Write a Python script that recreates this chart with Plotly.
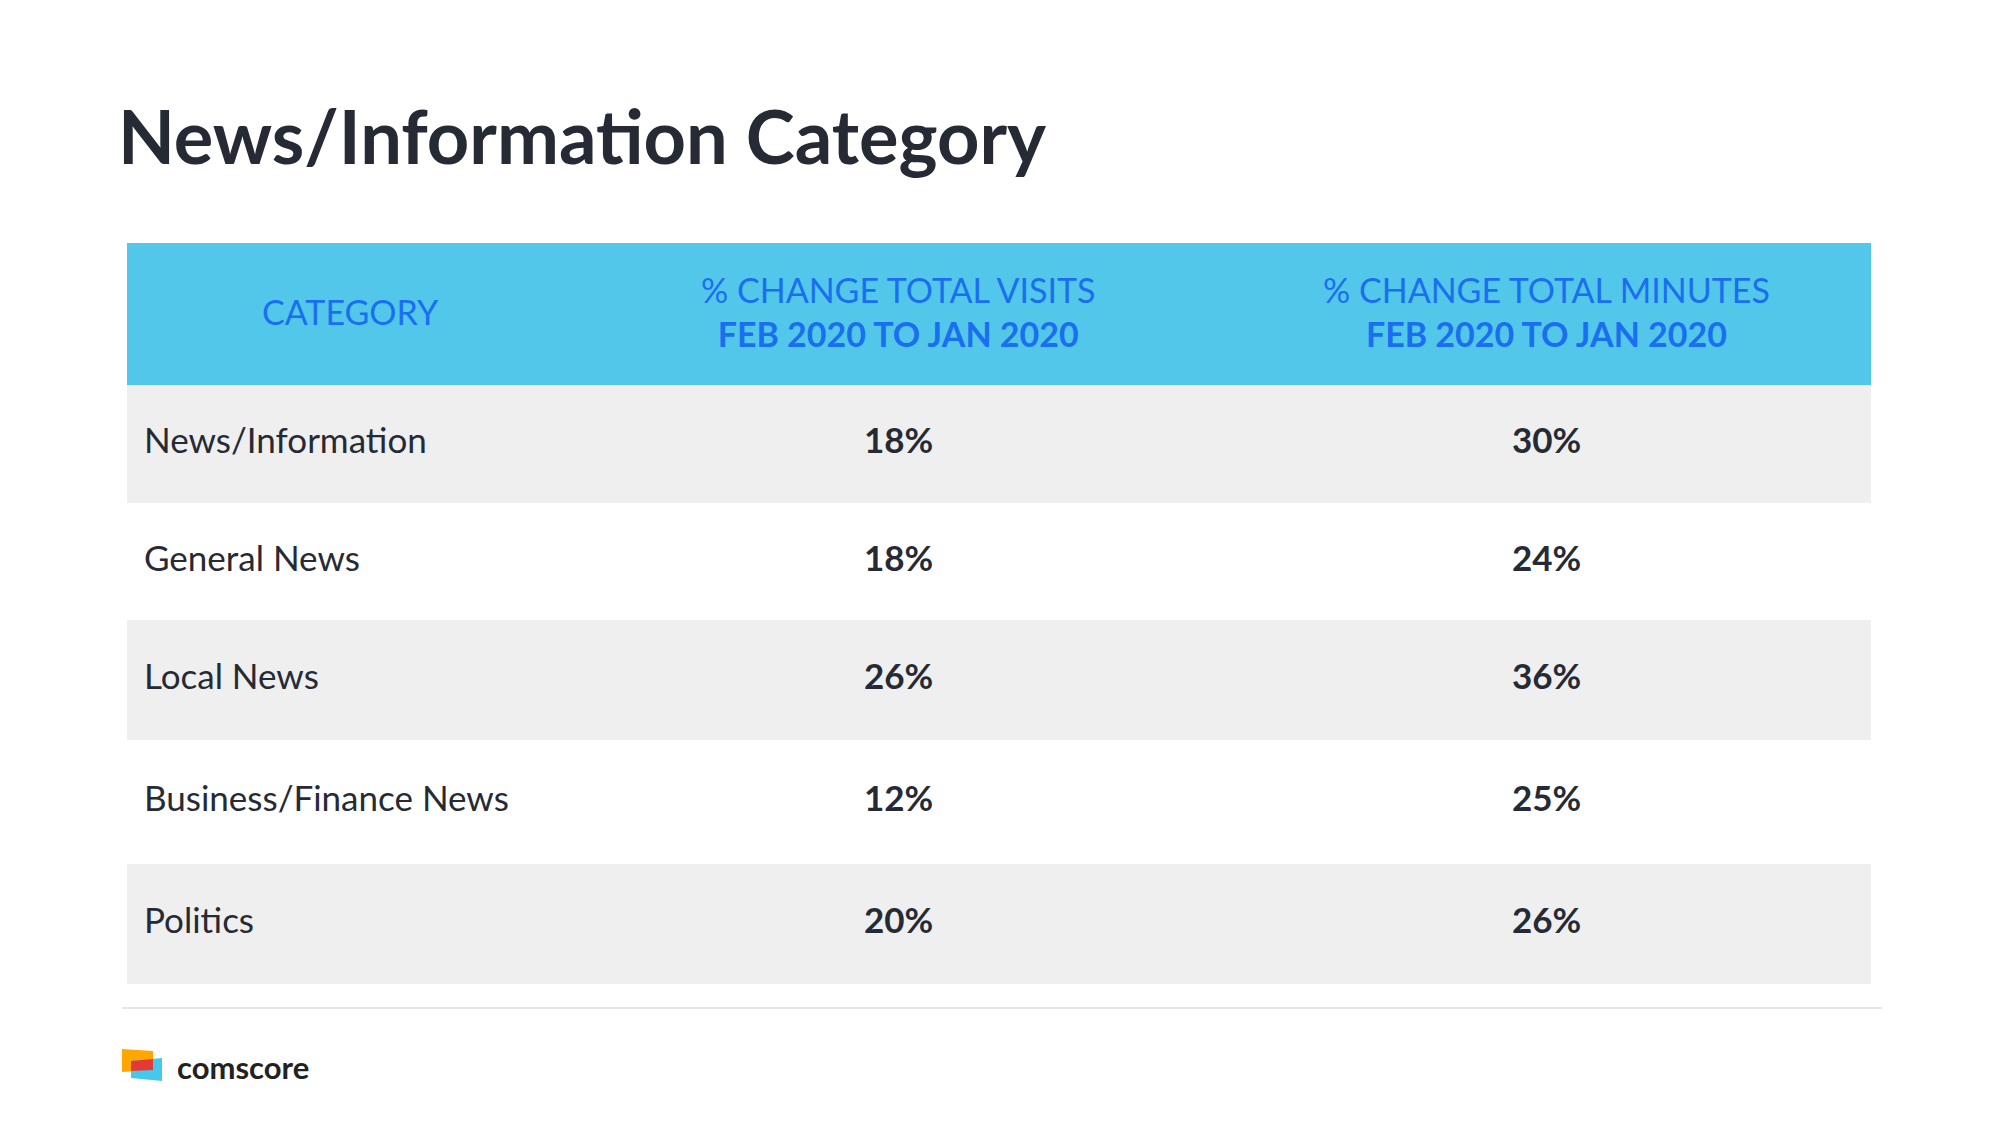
import plotly.graph_objects as go

W, H = 2000, 1125
OFF = 8  # page body margin of the html page

categories = ["News/Information", "General News", "Local News", "Business/Finance News", "Politics"]
visits_change = ["18%", "18%", "26%", "12%", "20%"]
minutes_change = ["30%", "24%", "36%", "25%", "26%"]
header_top = ["CATEGORY", "% CHANGE TOTAL VISITS", "% CHANGE TOTAL MINUTES"]
header_sub = ["", "FEB 2020 TO JAN 2020", "FEB 2020 TO JAN 2020"]

def px_x(v):
    return (v - OFF) / W

def px_y(v):
    return 1 - (v - OFF) / H

dark = "#262A35"
blue = "#1A6FF0"
font = "Lato"

left, right = 127, 1871
col_centers = [350, 898, 1546]
head_top, head_bot = 243, 385
row_edges = [385, 503, 620, 740, 864, 984]
text_lift = 5

shapes = [dict(type="rect", xref="paper", yref="paper", x0=px_x(left), x1=px_x(right),
               y0=px_y(head_bot), y1=px_y(head_top), fillcolor="#52C7EA", line=dict(width=0))]
annotations = []

for j in range(3):
    txt = header_top[j] + ("<br><b>%s</b>" % header_sub[j] if header_sub[j] else "")
    annotations.append(dict(text=txt, xref="paper", yref="paper", x=px_x(col_centers[j]),
                            y=px_y((head_top + head_bot) / 2 - 3), xanchor="center", yanchor="middle",
                            align="center", showarrow=False,
                            font=dict(family=font, size=34, color=blue)))

for i, cat in enumerate(categories):
    y0, y1 = row_edges[i], row_edges[i + 1]
    if i % 2 == 0:
        shapes.append(dict(type="rect", xref="paper", yref="paper", x0=px_x(left), x1=px_x(right),
                           y0=px_y(y1), y1=px_y(y0), fillcolor="#EFEFEF", line=dict(width=0)))
    ym = px_y((y0 + y1) / 2 - text_lift)
    annotations.append(dict(text=cat, xref="paper", yref="paper", x=px_x(142), y=ym,
                            xanchor="left", yanchor="middle", showarrow=False,
                            font=dict(family=font, size=35, color=dark)))
    for j, v in ((1, visits_change[i]), (2, minutes_change[i])):
        annotations.append(dict(text="<b>%s</b>" % v, xref="paper", yref="paper",
                                x=px_x(col_centers[j]), y=ym, xanchor="center", yanchor="middle",
                                showarrow=False,
                                font=dict(family=font, size=35, color=dark, weight=900)))

shapes += [
    dict(type="line", xref="paper", yref="paper", x0=px_x(122), x1=px_x(1882),
         y0=px_y(1008), y1=px_y(1008), line=dict(color="#E6E6E6", width=2)),
    # comscore logo
    dict(type="path", xref="paper", yref="paper",
         path="M %f %f L %f %f L %f %f L %f %f Z" % (px_x(122), px_y(1049), px_x(153), px_y(1051),
                                                 px_x(153), px_y(1070), px_x(122), px_y(1072)),
         fillcolor="#FFA600", line=dict(width=0)),
    dict(type="path", xref="paper", yref="paper",
         path="M %f %f L %f %f L %f %f L %f %f Z" % (px_x(131), px_y(1061), px_x(162), px_y(1058),
                                                 px_x(162), px_y(1081), px_x(131), px_y(1078)),
         fillcolor="#45C8EC", line=dict(width=0)),
    dict(type="path", xref="paper", yref="paper",
         path="M %f %f L %f %f L %f %f L %f %f Z" % (px_x(131), px_y(1061), px_x(153), px_y(1059),
                                                 px_x(153), px_y(1070), px_x(131), px_y(1071)),
         fillcolor="#E53935", line=dict(width=0)),
]

annotations += [
    dict(text="<b>News/Information Category</b>", xref="paper", yref="paper",
         x=px_x(116), y=px_y(136), xanchor="left", yanchor="middle", showarrow=False,
         font=dict(family=font, size=74, color=dark, weight=900)),
    dict(text="<b>comscore</b>", xref="paper", yref="paper",
         x=px_x(175), y=px_y(1067), xanchor="left", yanchor="middle", showarrow=False,
         font=dict(family=font, size=31, color="#222222")),
]

fig = go.Figure()
fig.update_layout(
    width=W, height=H,
    margin=dict(l=0, r=0, t=0, b=0),
    paper_bgcolor="white",
    plot_bgcolor="white",
    xaxis=dict(visible=False),
    yaxis=dict(visible=False),
    shapes=shapes,
    annotations=annotations,
)

fig.write_html("out.html")
